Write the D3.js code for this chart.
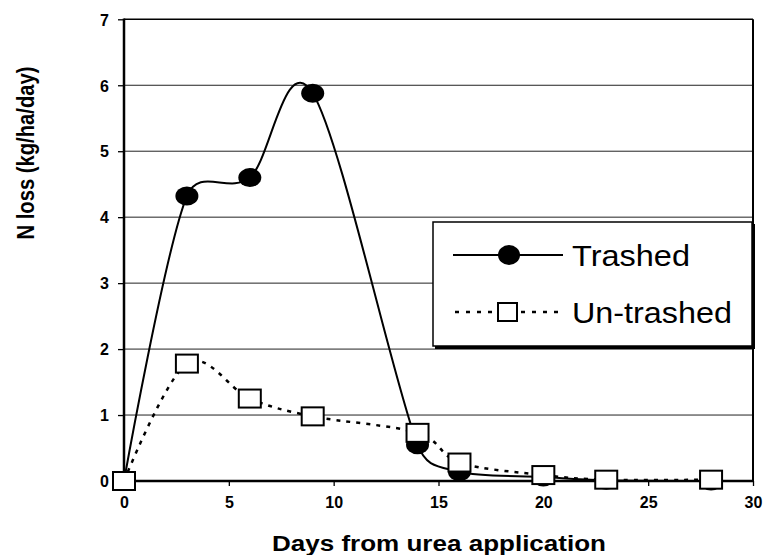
<!DOCTYPE html>
<html><head><meta charset="utf-8">
<script src="https://cdn.jsdelivr.net/npm/d3@7"></script>
<style>body{margin:0;background:#fff} svg{display:block}</style>
</head><body><svg id="c" width="764" height="555"></svg>
<script>
const days = [0, 3, 6, 9, 14, 16, 20, 23, 28];
const trashed = [0, 4.32, 4.60, 5.88, 0.55, 0.14, 0.06, 0.01, 0.0];
const untrashed = [0, 1.78, 1.25, 0.98, 0.73, 0.28, 0.09, 0.02, 0.02];
const xTicks = [0, 5, 10, 15, 20, 25, 30];
const yTicks = [0, 1, 2, 3, 4, 5, 6, 7];
const seriesNames = ["Trashed", "Un-trashed"];
const xTitle = "Days from urea application";
const yTitle = "N loss (kg/ha/day)";

const svg = d3.select("#c");
const L = 124, R = 753, T = 19.3, B = 481;
const x = d3.scaleLinear().domain([0, 30]).range([L, R]);
const y = d3.scaleLinear().domain([0, 7]).range([B, T]);
const font = "'Liberation Sans', Arial, Helvetica, sans-serif";

// Excel-like smoothed line: Bezier, control points at 1/6 of neighbour chord, limited to half segment
function smoothPath(p) {
  const path = d3.path();
  path.moveTo(p[0][0], p[0][1]);
  const n = p.length;
  const tan = i => (i === 0 || i === n - 1) ? [0, 0]
    : [(p[i + 1][0] - p[i - 1][0]) / 6, (p[i + 1][1] - p[i - 1][1]) / 6];
  const clamp = (v, max) => {
    const l = Math.hypot(v[0], v[1]);
    return l > max && l > 0 ? [v[0] * max / l, v[1] * max / l] : v;
  };
  for (let i = 0; i < n - 1; i++) {
    const seg = Math.hypot(p[i + 1][0] - p[i][0], p[i + 1][1] - p[i][1]);
    const t1 = clamp(tan(i), seg / 2), t2 = clamp(tan(i + 1), seg / 2);
    path.bezierCurveTo(p[i][0] + t1[0], p[i][1] + t1[1],
      p[i + 1][0] - t2[0], p[i + 1][1] - t2[1], p[i + 1][0], p[i + 1][1]);
  }
  return path.toString();
}

// gridlines
svg.append("g").selectAll("line").data(yTicks.filter(d => d > 0 && d < 7)).join("line")
  .attr("x1", L).attr("x2", R).attr("y1", d => y(d)).attr("y2", d => y(d))
  .attr("stroke", "#222").attr("stroke-width", 1);

// frame
svg.append("line").attr("x1", L).attr("x2", R).attr("y1", T).attr("y2", T).attr("stroke", "#000").attr("stroke-width", 1.6);
svg.append("line").attr("x1", R).attr("x2", R).attr("y1", T).attr("y2", B).attr("stroke", "#000").attr("stroke-width", 2);

// axes
const yAxis = d3.axisLeft(y).tickValues(yTicks).tickSize(6).tickPadding(9).tickFormat(d3.format("d"));
const gy = svg.append("g").attr("transform", `translate(${L},0)`).call(yAxis);
const xAxis = d3.axisBottom(x).tickValues(xTicks).tickSize(5).tickPadding(16).tickFormat(d3.format("d"));
const gx = svg.append("g").attr("transform", `translate(0,${B})`).call(xAxis);
[gx, gy].forEach(g => {
  g.select(".domain").remove();
  g.selectAll(".tick line").attr("stroke", "#000").attr("stroke-width", 1.3);
  g.selectAll(".tick text").attr("fill", "#000").attr("font-family", font)
    .attr("font-weight", "bold").attr("font-size", 16);
});
gx.selectAll(".tick text").attr("dy", "0.35em").attr("y", 21);
gy.selectAll(".tick text").attr("dy", "0.36em");
svg.append("line").attr("x1", L).attr("x2", L).attr("y1", T - 0.8).attr("y2", B + 1).attr("stroke", "#000").attr("stroke-width", 2.5);
svg.append("line").attr("x1", L).attr("x2", R + 1).attr("y1", B).attr("y2", B).attr("stroke", "#000").attr("stroke-width", 2.5);

// titles
svg.append("text").attr("x", 439).attr("y", 551).attr("text-anchor", "middle")
  .attr("font-family", font).attr("font-weight", "bold").attr("font-size", 22)
  .attr("textLength", 334).attr("lengthAdjust", "spacingAndGlyphs").text(xTitle);
svg.append("text").attr("transform", "translate(34,153) rotate(-90)").attr("text-anchor", "middle")
  .attr("font-family", font).attr("font-weight", "bold").attr("font-size", 23)
  .attr("textLength", 173).attr("lengthAdjust", "spacingAndGlyphs").text(yTitle);

// lines
const pts = vals => days.map((d, i) => [x(d), y(vals[i])]);
svg.append("path").attr("d", smoothPath(pts(trashed))).attr("fill", "none")
  .attr("stroke", "#000").attr("stroke-width", 2);
svg.selectAll(".dot").data(pts(trashed)).join("ellipse").attr("class", "dot")
  .attr("cx", d => d[0]).attr("cy", d => d[1]).attr("rx", 11.5).attr("ry", 9.5).attr("fill", "#000");

svg.append("path").attr("d", smoothPath(pts(untrashed))).attr("fill", "none")
  .attr("stroke", "#000").attr("stroke-width", 2.5).attr("stroke-dasharray", "4,6");
svg.selectAll(".sq").data(pts(untrashed)).join("rect").attr("class", "sq")
  .attr("x", d => d[0] - 11).attr("y", d => d[1] - 9).attr("width", 22).attr("height", 18)
  .attr("fill", "#fff").attr("stroke", "#000").attr("stroke-width", 2);

// legend
const lg = svg.append("g");
lg.append("rect").attr("x", 435).attr("y", 224).attr("width", 320).attr("height", 125).attr("fill", "#000");
lg.append("rect").attr("x", 433).attr("y", 222).attr("width", 319).attr("height", 124)
  .attr("fill", "#fff").attr("stroke", "#000").attr("stroke-width", 1.5);
const rows = [255, 312];
lg.append("line").attr("x1", 453).attr("x2", 563).attr("y1", rows[0]).attr("y2", rows[0]).attr("stroke", "#000").attr("stroke-width", 2);
lg.append("ellipse").attr("cx", 509).attr("cy", rows[0]).attr("rx", 11).attr("ry", 10).attr("fill", "#000");
lg.append("line").attr("x1", 455).attr("x2", 563).attr("y1", rows[1]).attr("y2", rows[1]).attr("stroke", "#000").attr("stroke-width", 2.5).attr("stroke-dasharray", "4,7");
lg.append("rect").attr("x", 498).attr("y", rows[1] - 9).attr("width", 19).attr("height", 18).attr("fill", "#fff").attr("stroke", "#000").attr("stroke-width", 2);
const lens = [118, 160];
seriesNames.forEach((n, i) => {
  lg.append("text").attr("x", 572).attr("y", rows[i] + 10.5).attr("font-family", font)
    .attr("font-size", 29).attr("fill", "#000")
    .attr("textLength", lens[i]).attr("lengthAdjust", "spacingAndGlyphs").text(n);
});
</script></body></html>
